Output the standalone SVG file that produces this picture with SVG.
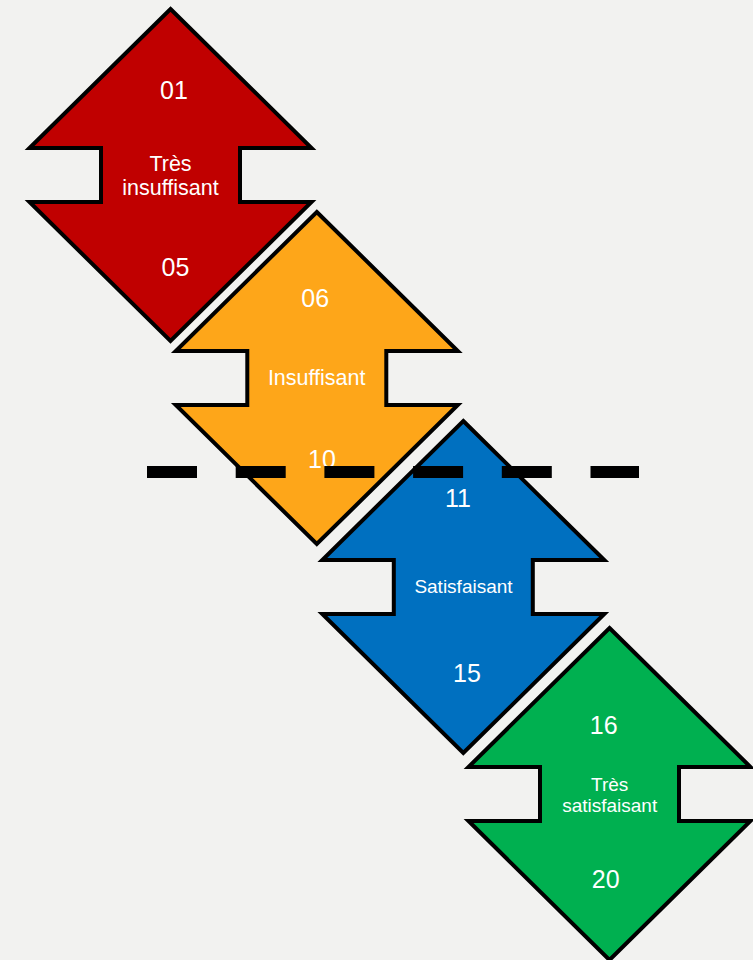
<svg xmlns="http://www.w3.org/2000/svg" xmlns:xlink="http://www.w3.org/1999/xlink" width="753" height="960" viewBox="0 0 753 960">
  <style>
    .shape { stroke: #000000; stroke-width: 4; stroke-linejoin: miter; }
    .red { fill: #C00000; }
    .orange { fill: #FEA619; }
    .blue { fill: #0070C0; }
    .green { fill: #00B050; }
    .num { font-family: "Liberation Sans", Arial, sans-serif; font-size: 25px; fill: #FFFFFF; text-anchor: middle; }
    .lbl { font-family: "Liberation Sans", Arial, sans-serif; fill: #FFFFFF; text-anchor: middle; }
    .big { font-size: 21.5px; }
    .small { font-size: 19px; }
    .dash { stroke: #000000; stroke-width: 12; stroke-dasharray: 50 38.7; fill: none; }
  </style>
  <defs>
    <path id="arrow" d="M0,0 L141,139 L69.5,139 L69.5,193 L141,193 L0,332 L-141,193 L-69.5,193 L-69.5,139 L-141,139 Z"/>
  </defs>
  <rect x="0" y="0" width="753" height="960" fill="#F2F2F0"/>

  <g id="node-tres-insuffisant">
    <use xlink:href="#arrow" href="#arrow" class="shape red" transform="translate(170.5,9)"/>
    <text class="num" x="174" y="99">01</text>
    <text class="lbl big" x="170.5" y="171">Très</text>
    <text class="lbl big" x="170.5" y="195">insuffisant</text>
    <text class="num" x="175.5" y="276">05</text>
  </g>

  <g id="node-insuffisant">
    <use xlink:href="#arrow" href="#arrow" class="shape orange" transform="translate(316.8,212)"/>
    <text class="num" x="315.2" y="306.7">06</text>
    <text class="lbl big" x="316.7" y="385">Insuffisant</text>
    <text class="num" x="322" y="468">10</text>
  </g>

  <g id="node-satisfaisant">
    <use xlink:href="#arrow" href="#arrow" class="shape blue" transform="translate(463.3,421)"/>
    <text class="num" x="458" y="507">11</text>
    <text class="lbl small" x="463.5" y="592.7">Satisfaisant</text>
    <text class="num" x="467" y="682">15</text>
  </g>

  <g id="node-tres-satisfaisant">
    <use xlink:href="#arrow" href="#arrow" class="shape green" transform="translate(609.5,628)"/>
    <text class="num" x="603.7" y="734">16</text>
    <text class="lbl small" x="609.7" y="791">Très</text>
    <text class="lbl small" x="609.7" y="811.5">satisfaisant</text>
    <text class="num" x="605.7" y="887.7">20</text>
  </g>

  <g id="connectors">
    <line class="dash" x1="147" y1="472" x2="639" y2="472"/>
  </g>
</svg>
